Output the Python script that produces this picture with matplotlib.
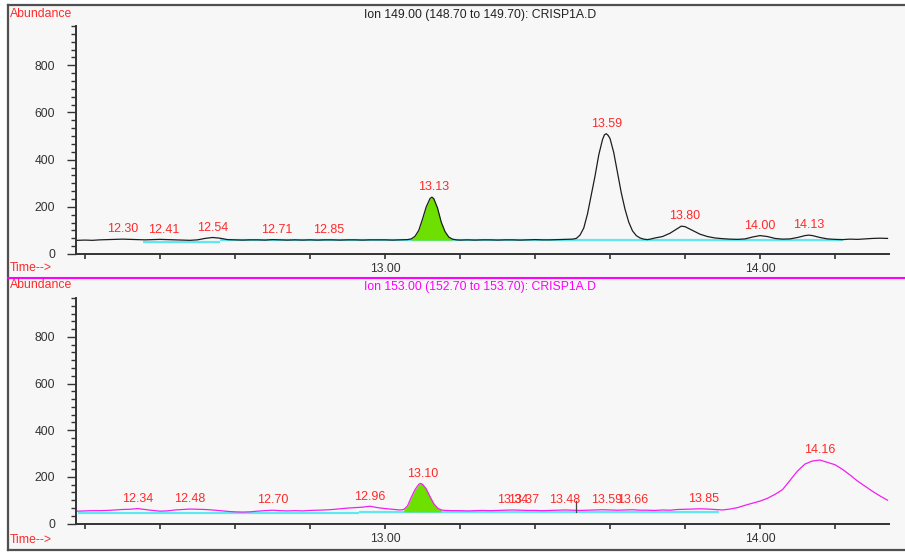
import numpy as np
import matplotlib
matplotlib.use("Agg")
import matplotlib.pyplot as plt
from matplotlib.ticker import MultipleLocator, FixedLocator, FixedFormatter
from matplotlib.lines import Line2D
from matplotlib.patches import Rectangle

plt.rcParams['font.family'] = ['Liberation Sans', 'DejaVu Sans']

# ---------------- data ----------------
# Ion 149 extracted-ion chromatogram (time in min, abundance)
ion149_time = [12.18, 12.20, 12.22, 12.24, 12.26, 12.28, 12.30, 12.32, 12.34, 12.36,
               12.38, 12.40, 12.42, 12.44, 12.46, 12.48, 12.50, 12.52, 12.54, 12.56,
               12.58, 12.60, 12.62, 12.64, 12.66, 12.68, 12.70, 12.72, 12.74, 12.76,
               12.78, 12.80, 12.82, 12.84, 12.86, 12.88, 12.90, 12.92, 12.94, 12.96,
               12.98, 13.00, 13.02, 13.04, 13.06, 13.07, 13.08, 13.09, 13.10, 13.11,
               13.12, 13.125, 13.13, 13.14, 13.15, 13.16, 13.17, 13.18, 13.19, 13.20,
               13.22, 13.24, 13.26, 13.28, 13.30, 13.32, 13.34, 13.36, 13.38, 13.40,
               13.42, 13.44, 13.46, 13.48, 13.50, 13.51, 13.52, 13.53, 13.54, 13.55,
               13.56, 13.57, 13.58, 13.585, 13.59, 13.595, 13.60, 13.61, 13.62, 13.63,
               13.64, 13.65, 13.66, 13.67, 13.68, 13.69, 13.70, 13.71, 13.72, 13.74,
               13.76, 13.78, 13.79, 13.80, 13.82, 13.84, 13.86, 13.88, 13.90, 13.92,
               13.94, 13.96, 13.98, 14.00, 14.02, 14.04, 14.06, 14.08, 14.10, 14.12,
               14.13, 14.14, 14.16, 14.18, 14.20, 14.22, 14.24, 14.26, 14.28, 14.30,
               14.32, 14.34]
ion149_abund = [58, 59, 58, 60, 61, 62, 63, 62, 61, 60,
                61, 62, 61, 60, 59, 58, 60, 66, 70, 67,
                61, 60, 59, 60, 60, 59, 61, 60, 59, 60,
                59, 60, 59, 60, 60, 59, 60, 60, 59, 60,
                60, 60, 59, 60, 61, 64, 75, 100, 148, 200,
                235, 241, 235, 195, 135, 95, 72, 63, 60, 59,
                60, 59, 60, 60, 59, 60, 60, 59, 60, 61,
                60, 60, 61, 62, 63, 66, 80, 110, 170, 250,
                330, 420, 485, 505, 510, 503, 490, 430, 345, 260,
                190, 135, 98, 78, 68, 63, 61, 64, 68, 74,
                88, 108, 118, 116, 100, 84, 74, 68, 65, 63,
                62, 64, 72, 78, 74, 66, 63, 64, 70, 78,
                80, 78, 70, 64, 62, 61, 63, 62, 64, 66,
                67, 66]

# Ion 153 extracted-ion chromatogram
ion153_time = [12.18, 12.20, 12.22, 12.24, 12.26, 12.28, 12.30, 12.32, 12.34, 12.36,
               12.38, 12.40, 12.42, 12.44, 12.46, 12.48, 12.50, 12.52, 12.54, 12.56,
               12.58, 12.60, 12.62, 12.64, 12.66, 12.68, 12.70, 12.72, 12.74, 12.76,
               12.78, 12.80, 12.82, 12.84, 12.86, 12.88, 12.90, 12.92, 12.94, 12.96,
               12.98, 13.00, 13.02, 13.04, 13.05, 13.06, 13.07, 13.08, 13.09, 13.095,
               13.10, 13.11, 13.12, 13.13, 13.14, 13.15, 13.16, 13.18, 13.20, 13.22,
               13.24, 13.26, 13.28, 13.30, 13.32, 13.34, 13.36, 13.38, 13.40, 13.42,
               13.44, 13.46, 13.48, 13.50, 13.52, 13.54, 13.56, 13.58, 13.60, 13.62,
               13.64, 13.66, 13.68, 13.70, 13.72, 13.74, 13.76, 13.78, 13.80, 13.82,
               13.84, 13.86, 13.88, 13.90, 13.92, 13.94, 13.96, 13.98, 14.00, 14.02,
               14.04, 14.06, 14.08, 14.10, 14.12, 14.14, 14.16, 14.18, 14.20, 14.22,
               14.24, 14.26, 14.28, 14.30, 14.32, 14.34]
ion153_abund = [53, 54, 55, 55, 56, 58, 60, 61, 64, 60,
                56, 53, 54, 58, 60, 62, 61, 60, 58, 55,
                52, 50, 49, 50, 53, 55, 57, 55, 54, 55,
                54, 56, 57, 58, 60, 63, 66, 68, 70, 74,
                68, 64, 61, 58, 60, 75, 112, 145, 168, 172,
                168, 148, 115, 85, 66, 58, 56, 55, 55, 54,
                55, 56, 55, 56, 57, 58, 57, 56, 56, 55,
                56, 57, 58, 57, 56, 57, 58, 59, 58, 57,
                58, 59, 57, 57, 56, 58, 57, 60, 61, 62,
                63, 62, 60, 58, 62, 68, 78, 87, 96, 108,
                125, 145, 185, 225, 255, 268, 272, 262, 252, 232,
                208, 182, 160, 138, 118, 100]

# retention-time labels
ion149_peak_labels = ["12.30", "12.41", "12.54", "12.71", "12.85",
                      "13.13", "13.59", "13.80", "14.00", "14.13"]
ion153_peak_labels = ["12.34", "12.48", "12.70", "12.96", "13.10", "13.34", "13.37",
                      "13.48", "13.59", "13.66", "13.85", "14.16"]

# integration baselines: (start, end, level)
ion149_baselines = [(12.355, 12.56, 50), (12.56, 14.22, 59)]
ion153_baselines = [(12.18, 12.93, 45), (12.93, 13.89, 50)]

# integrated (filled) peak windows: (start, end, baseline level)
ion149_filled = [(13.07, 13.18, 59)]
ion153_filled = [(13.05, 13.15, 50)]

# baseline event marker in the ion 153 trace
ion153_event = (13.51, 48, 95)

titles = ["Ion 149.00 (148.70 to 149.70): CRISP1A.D",
          "Ion 153.00 (152.70 to 153.70): CRISP1A.D"]

# ---------------- style ----------------
W, H = 905, 552
PANEL_BG = "#f7f7f7"
AXIS_C = "#333333"
LABEL_RED = "#ff2a2a"
MAGENTA = "#ff00ff"
TRACE_MAG = "#f020f0"
CYAN = "#5ee9f2"
GREEN = "#6ee000"
XLIM = (12.176, 14.344)
YLIM = (0, 966.7)

fig = plt.figure(figsize=(W / 100, H / 100), dpi=100)
fig.patch.set_facecolor("white")

def fx(px):
    return px / W

def fy(py):
    return 1 - py / H

# panel background and frame
fig.patches.append(Rectangle((fx(8), fy(549)), fx(905 - 8), (549 - 5) / H,
                             transform=fig.transFigure, facecolor=PANEL_BG,
                             edgecolor="none", zorder=-2))
frame_kw = dict(transform=fig.transFigure, color="#505050", lw=1.6, zorder=-1)
fig.lines.append(Line2D([fx(7.5), fx(7.5)], [fy(4.5), fy(549.5)], **frame_kw))
fig.lines.append(Line2D([fx(7.5), 1.0], [fy(4.5), fy(4.5)], **frame_kw))
fig.lines.append(Line2D([fx(7.5), 1.0], [fy(549.5), fy(549.5)], **frame_kw))
fig.lines.append(Line2D([fx(8), 1.0], [fy(277.5), fy(277.5)],
                        transform=fig.transFigure, color=MAGENTA, lw=1.5, zorder=-1))

panels = [
    dict(rect=[fx(76), fy(254), fx(889 - 76), 228 / H],
         t=ion149_time, a=ion149_abund, color="#1e1e1e",
         labels=ion149_peak_labels, base=ion149_baselines, fill=ion149_filled,
         title=titles[0], title_color="#222222", title_y=15,
         abund_y=14, time_y=268, event=None),
    dict(rect=[fx(76), fy(523.5), fx(889 - 76), 225.5 / H],
         t=ion153_time, a=ion153_abund, color=TRACE_MAG,
         labels=ion153_peak_labels, base=ion153_baselines, fill=ion153_filled,
         title=titles[1], title_color=MAGENTA, title_y=287,
         abund_y=285, time_y=540, event=ion153_event),
]

for p in panels:
    ax = fig.add_axes(p["rect"])
    ax.set_zorder(1)
    ax.set_facecolor("none")
    t = np.array(p["t"])
    a = np.array(p["a"], dtype=float)

    # integration baselines
    for (t0, t1, lvl) in p["base"]:
        ax.plot([t0, t1], [lvl, lvl], color=CYAN, lw=1.6, zorder=2,
                solid_capstyle="butt")
    # integrated peaks
    for (t0, t1, lvl) in p["fill"]:
        m = (t >= t0) & (t <= t1)
        ax.fill_between(t[m], lvl, a[m], color=GREEN, lw=0, zorder=3)

    ax.plot(t, a, color=p["color"], lw=0.9, zorder=4)

    if p["event"] is not None:
        et, e0, e1 = p["event"]
        ax.plot([et, et], [e0, e1], color="#444444", lw=0.9, zorder=5)

    # peak retention-time labels
    for lab in p["labels"]:
        rt = float(lab)
        near = np.abs(t - rt) <= 0.012
        top = a[near].max() if near.any() else np.interp(rt, t, a)
        ax.annotate(lab, (rt, top), xytext=(0, 7), textcoords="offset points",
                    ha="center", va="center", fontsize=9, color=LABEL_RED,
                    zorder=6)

    ax.set_xlim(*XLIM)
    ax.set_ylim(*YLIM)
    for s in ("top", "right"):
        ax.spines[s].set_visible(False)
    for s in ("left", "bottom"):
        ax.spines[s].set_color(AXIS_C)
        ax.spines[s].set_linewidth(1.4)

    ax.yaxis.set_major_locator(FixedLocator([0, 200, 400, 600, 800]))
    ax.yaxis.set_minor_locator(MultipleLocator(200 / 6))
    xt = [12.2, 12.4, 12.6, 12.8, 13.0, 13.2, 13.4, 13.6, 13.8, 14.0, 14.2]
    ax.xaxis.set_major_locator(FixedLocator(xt))
    ax.xaxis.set_major_formatter(FixedFormatter(
        ["13.00" if abs(v - 13.0) < 1e-9 else "14.00" if abs(v - 14.0) < 1e-9 else ""
         for v in xt]))
    ax.tick_params(axis="y", which="major", length=6.5, width=1.0, color=AXIS_C,
                   labelsize=8.7, labelcolor="#333333", pad=8.5)
    ax.tick_params(axis="y", which="minor", length=3.6, width=1.0, color=AXIS_C)
    ax.tick_params(axis="x", which="major", length=3.8, width=1.2, color=AXIS_C,
                   labelsize=8.7, labelcolor="#333333", pad=3.0)

    fig.text(fx(480), fy(p["title_y"]), p["title"], ha="center", va="center",
             fontsize=8.8, color=p["title_color"])
    fig.text(fx(10), fy(p["abund_y"]), "Abundance", ha="left", va="center",
             fontsize=8.8, color=LABEL_RED)
    fig.text(fx(10), fy(p["time_y"]), "Time-->", ha="left", va="center",
             fontsize=8.8, color=LABEL_RED)

fig.savefig("out.png", dpi=100)
